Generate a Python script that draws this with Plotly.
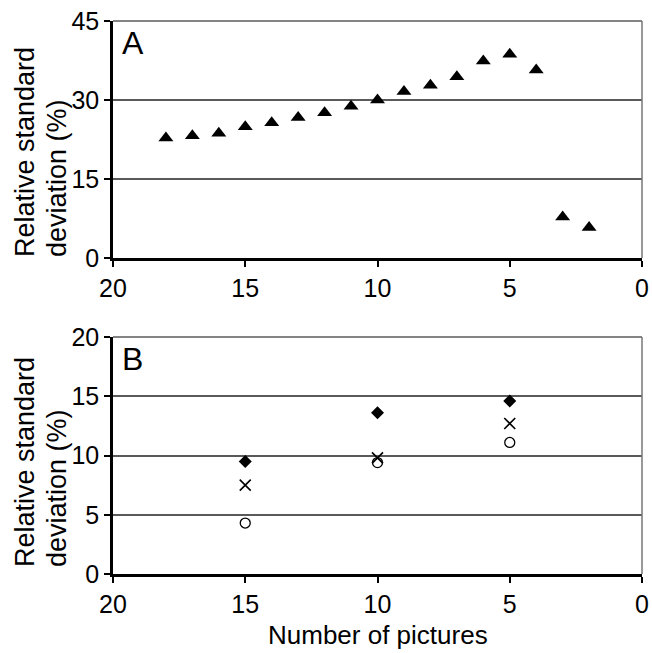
import plotly.graph_objects as go

# Panel A
a_x = [18, 17, 16, 15, 14, 13, 12, 11, 10, 9, 8, 7, 6, 5, 4, 3, 2]
a_y = [22.8, 23.2, 23.7, 24.9, 25.7, 26.7, 27.6, 28.8, 30.0, 31.6, 32.8, 34.4, 37.4, 38.7, 35.7, 7.8, 5.8]

# Panel B
b_x = [15, 10, 5]
b_diamond = [9.5, 13.6, 14.6]
b_cross = [7.5, 9.8, 12.7]
b_circle = [4.3, 9.4, 11.1]

x_ticks = [20, 15, 10, 5, 0]
a_ticks = [0, 15, 30, 45]
b_ticks = [0, 5, 10, 15, 20]

FONT = "Liberation Sans, Arial, sans-serif"
W, H = 652, 653
x0, x1 = 113 / W, 642 / W
a_top, a_bot = 1 - 21 / H, 1 - 258 / H
b_top, b_bot = 1 - 337 / H, 1 - 574 / H

fig = go.Figure()
fig.add_trace(go.Scatter(x=a_x, y=a_y, mode="markers", xaxis="x", yaxis="y",
                         marker=dict(symbol="triangle-up", size=13, color="black"),
                         showlegend=False))
fig.add_trace(go.Scatter(x=b_x, y=b_diamond, mode="markers", xaxis="x2", yaxis="y2",
                         marker=dict(symbol="diamond", size=10, color="black"),
                         showlegend=False))
fig.add_trace(go.Scatter(x=b_x, y=b_cross, mode="markers", xaxis="x2", yaxis="y2",
                         marker=dict(symbol="x-thin-open", size=11, color="black",
                                     line=dict(width=1.6, color="black")),
                         showlegend=False))
fig.add_trace(go.Scatter(x=b_x, y=b_circle, mode="markers", xaxis="x2", yaxis="y2",
                         marker=dict(symbol="circle-open", size=10, color="black",
                                     line=dict(width=1.3, color="black")),
                         showlegend=False))

xcommon = dict(range=[20, 0], tickvals=x_ticks, ticks="outside", ticklen=6, tickwidth=2,
               tickcolor="black", showline=True, linecolor="black", linewidth=2.5,
               showgrid=False, zeroline=False, domain=[x0, x1], automargin=False,
               tickfont=dict(size=25, color="black", family=FONT), mirror=False)
ycommon = dict(ticks="outside", ticklen=6, tickwidth=2, tickcolor="black",
               showline=True, linecolor="black", linewidth=2.5, automargin=False,
               showgrid=True, gridcolor="#5a5a5a", gridwidth=1.5, zeroline=False,
               tickfont=dict(size=25, color="black", family=FONT))

fig.update_layout(
    width=W, height=H, margin=dict(l=0, r=0, t=0, b=0, autoexpand=False),
    paper_bgcolor="white", plot_bgcolor="white",
    font=dict(family=FONT, color="black"),
    xaxis=dict(**xcommon, anchor="y"),
    yaxis=dict(**ycommon, range=[0, 45], tickvals=a_ticks, domain=[a_bot, a_top], anchor="x"),
    xaxis2=dict(**xcommon, anchor="y2"),
    yaxis2=dict(**ycommon, range=[0, 20], tickvals=b_ticks, domain=[b_bot, b_top], anchor="x2"),
)

# borders (top and right, gray)
for (yb, yt) in [(a_bot, a_top), (b_bot, b_top)]:
    fig.add_shape(type="line", xref="paper", yref="paper", x0=x0, x1=x1, y0=yt, y1=yt,
                  line=dict(color="#5a5a5a", width=1.5))
    fig.add_shape(type="line", xref="paper", yref="paper", x0=x1, x1=x1, y0=yb, y1=yt,
                  line=dict(color="#777777", width=1.5))

# panel labels
fig.add_annotation(text="A", xref="paper", yref="paper", x=x0 + 7 / W, y=a_top - 2 / H,
                   xanchor="left", yanchor="top", showarrow=False,
                   font=dict(size=32, family=FONT, color="black"))
fig.add_annotation(text="B", xref="paper", yref="paper", x=x0 + 7 / W, y=b_top - 2 / H,
                   xanchor="left", yanchor="top", showarrow=False,
                   font=dict(size=32, family=FONT, color="black"))

# y titles (two start-aligned lines, rotated)
for ybottom in [259, 569]:
    for text, xc in [("Relative standard", 25), ("deviation (%)", 57)]:
        fig.add_annotation(text=text, xref="paper", yref="paper",
                           x=xc / W, y=1 - ybottom / H, textangle=-90, showarrow=False,
                           xanchor="center", yanchor="bottom",
                           font=dict(size=27, family=FONT, color="black"))

# x title
fig.add_annotation(text="Number of pictures", xref="paper", yref="paper",
                   x=(x0 + x1) / 2, y=1 - 635 / H, showarrow=False,
                   xanchor="center", yanchor="middle",
                   font=dict(size=26, family=FONT, color="black"))

fig.write_html("out.html")
